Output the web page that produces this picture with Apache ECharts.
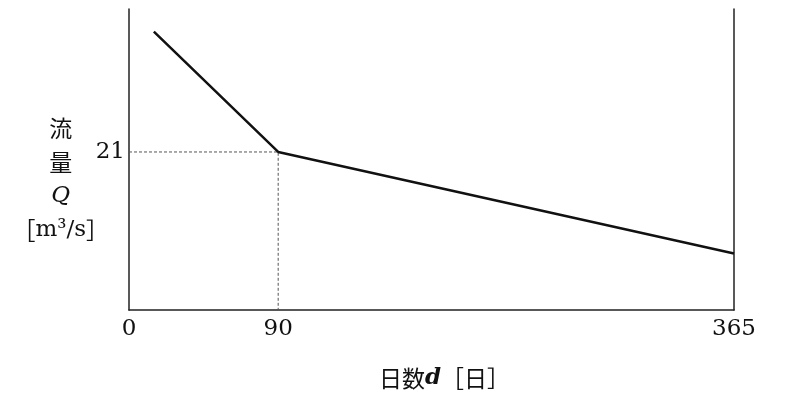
<!DOCTYPE html>
<html>
<head>
<meta charset="utf-8">
<script src="https://cdn.jsdelivr.net/npm/echarts@6/dist/echarts.min.js"></script>
<style>html,body{margin:0;padding:0;background:#fff;}#chart{width:788px;height:404px;}</style>
</head>
<body>
<div id="chart"></div>
<script>
// Data
const flowPoints = [[15, 37], [90, 21], [365, 7.5]];
const guidePoints = [[0, 21], [90, 21], [90, 0]];
const xTickLabels = [0, 90, 365];
const yTickLabels = [21];

const serif = '"DejaVu Serif", "Liberation Serif", "Noto Sans CJK JP", serif';
const cjk = '"Noto Sans CJK JP", sans-serif';
const ink = '#111';

const chart = echarts.init(document.getElementById('chart'), null, {renderer: 'canvas'});
chart.setOption({
  animation: false,
  backgroundColor: '#fff',
  grid: {left: 129, right: 54, top: 9, bottom: 94, containLabel: false, outerBoundsMode: 'none'},
  xAxis: {
    type: 'value', min: 0, max: 365,
    name: '{c|日数}{i|d}{c|［日］}',
    nameLocation: 'middle', nameGap: 57, nameMoveOverlap: false,
    nameTextStyle: {
      padding: [0, 0, 0, 26],
      rich: {
        c: {fontFamily: cjk, fontSize: 23, color: ink},
        i: {fontFamily: serif, fontStyle: 'italic', fontWeight: 'bold', fontSize: 23, color: ink}
      }
    },
    axisLine: {show: true, lineStyle: {color: '#222', width: 1.5}},
    axisTick: {show: false},
    splitLine: {show: false},
    axisLabel: {customValues: xTickLabels, fontFamily: serif, fontSize: 23, color: ink, margin: 8}
  },
  yAxis: [{
    type: 'value', min: 0, max: 40,
    name: '{c|流}\n{c|量}\n{i|Q}\n{c|［}{n|m³/s}{c|］}',
    nameLocation: 'middle', nameRotate: 0, nameGap: 20, nameMoveOverlap: false,
    nameTextStyle: {
      padding: [40, 0, 0, 0],
      rich: {
        c: {fontFamily: cjk, fontSize: 23, color: ink, lineHeight: 34, align: 'center'},
        i: {fontFamily: serif, fontStyle: 'italic', fontSize: 23, color: ink, lineHeight: 34, align: 'center'},
        n: {fontFamily: serif, fontSize: 23, color: ink, lineHeight: 34}
      }
    },
    axisLine: {show: true, lineStyle: {color: '#222', width: 1.5}},
    axisTick: {show: false},
    splitLine: {show: false},
    axisLabel: {customValues: yTickLabels, fontFamily: serif, fontSize: 23, color: ink, margin: 4}
  }, {
    type: 'value', min: 0, max: 40, position: 'right',
    axisLine: {show: true, lineStyle: {color: '#222', width: 1.5}},
    axisTick: {show: false}, axisLabel: {show: false}, splitLine: {show: false}
  }],
  series: [{
    type: 'line', data: guidePoints, symbol: 'none', silent: true,
    lineStyle: {color: '#555', width: 1, type: [3, 2]}
  }, {
    type: 'line', data: flowPoints, symbol: 'none', silent: true,
    lineStyle: {color: ink, width: 2.5}
  }]
});
</script>
</body>
</html>
